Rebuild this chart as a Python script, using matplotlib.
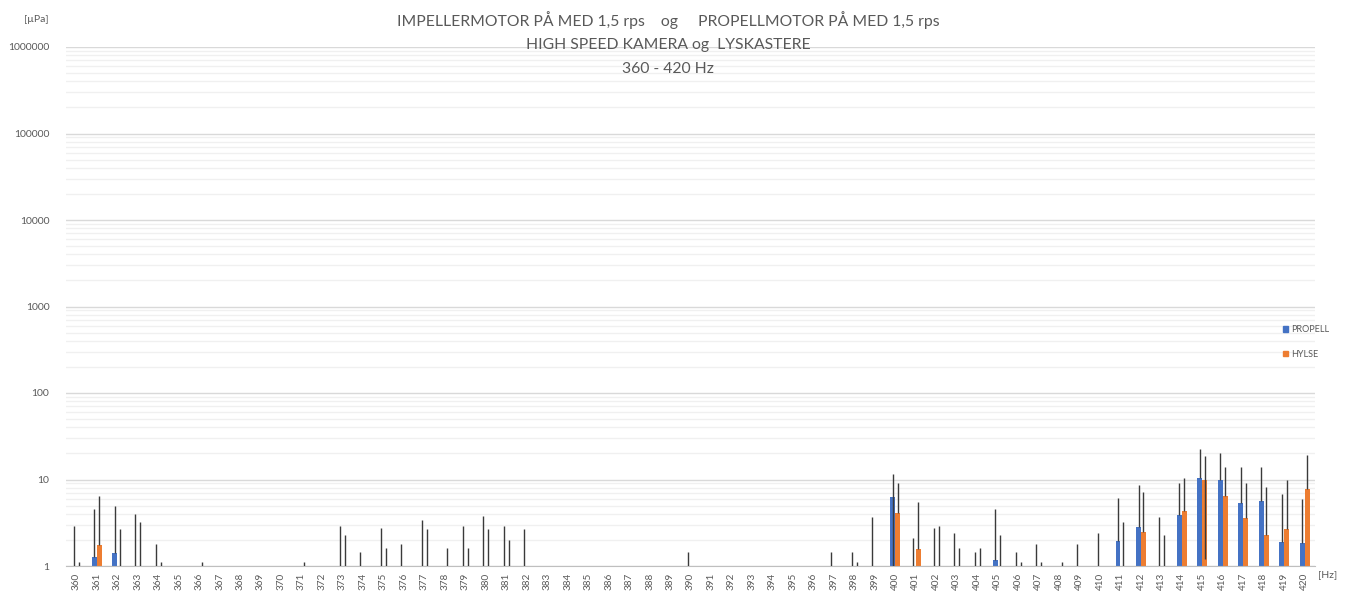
import matplotlib
matplotlib.use("Agg")
import matplotlib.pyplot as plt
import matplotlib.ticker as mticker
from matplotlib.patches import Patch
import numpy as np

plt.rcParams['font.family'] = ['Lato', 'DejaVu Sans']

# frequencies 360..420 Hz
freqs = list(range(360, 421))
y_ticks = [1, 10, 100, 1000, 10000, 100000, 1000000]

# PROPELL bar values and error sizes (0.2 = bar below the 1-axis, only error line shows)
prop_val = [0.2, 1.26, 1.41, 0.2, 0.2, 0, 0, 0, 0, 0,
            0, 0, 0, 0.2, 0.2, 0.2, 0.2, 0.2, 0, 0.2,
            0.2, 0.2, 0.2, 0, 0, 0, 0, 0, 0, 0,
            0.2, 0, 0, 0, 0, 0, 0, 0.2, 0.2, 0.2,
            6.2, 0.2, 0.2, 0.2, 0.2, 1.16, 0.2, 0.2, 0, 0.2,
            0.2, 1.96, 2.84, 0.2, 3.84, 10.45, 9.74, 5.33, 5.57, 1.89,
            1.83]
prop_err = [2.7, 3.34, 3.5, 3.75, 1.6, 0, 0, 0, 0, 0,
            0, 0, 0, 2.7, 1.24, 2.52, 1.61, 3.2, 0, 2.72,
            3.58, 2.72, 2.5, 0, 0, 0, 0, 0, 0, 0,
            1.24, 0, 0, 0, 0, 0, 0, 1.24, 1.24, 3.44,
            5.4, 1.88, 2.52, 2.22, 1.24, 3.44, 1.24, 1.6, 0, 1.6,
            2.22, 4.14, 5.76, 3.44, 5.36, 12.15, 10.36, 8.57, 8.33, 4.91,
            4.1]

# HYLSE
hyl_val = [0.2, 1.76, 0.2, 0.2, 0.2, 0, 0.2, 0, 0, 0,
           0, 0.2, 0, 0.2, 0, 0.2, 0, 0.2, 0.2, 0.2,
           0.2, 0.2, 0, 0, 0, 0, 0, 0, 0, 0,
           0, 0, 0, 0, 0, 0, 0, 0, 0.2, 0,
           4.12, 1.57, 0.2, 0.2, 0.2, 0.2, 0.2, 0.2, 0.2, 0,
           0, 0.2, 2.47, 0.2, 4.3, 10.0, 6.4, 3.58, 2.28, 2.65,
           7.7]
hyl_err = [0.9, 4.64, 2.5, 3.05, 0.9, 0, 0.9, 0, 0, 0,
           0, 0.9, 0, 2.1, 0, 1.4, 0, 2.5, 1.4, 1.4,
           2.5, 1.8, 0, 0, 0, 0, 0, 0, 0, 0,
           0, 0, 0, 0, 0, 0, 0, 0, 0.9, 0,
           5.08, 3.93, 2.7, 1.4, 1.4, 2.1, 0.9, 0.9, 0.9, 0,
           0, 3.05, 4.63, 2.1, 6.1, 8.8, 7.6, 5.42, 5.92, 7.25,
           11.7]

title_lines = ["IMPELLERMOTOR PÅ MED 1,5 rps    og     PROPELLMOTOR PÅ MED 1,5 rps",
               "HIGH SPEED KAMERA og  LYSKASTERE",
               "360 - 420 Hz"]

prop_val = np.array(prop_val, dtype=float)
prop_err = np.array(prop_err, dtype=float)
hyl_val = np.array(hyl_val, dtype=float)
hyl_err = np.array(hyl_err, dtype=float)

blue = '#4472C4'
orange = '#ED7D31'
grey = '#595959'

fig = plt.figure(figsize=(13.54, 5.99), dpi=100)
ax = fig.add_axes([66/1354, 1-566/599, (1315-66)/1354, (566-47)/599])

x = np.arange(len(freqs))
w = 0.24
ax.bar(x - w/2, prop_val, w, color=blue, zorder=2)
ax.bar(x + w/2, hyl_val, w, color=orange, zorder=2)

# error bars: minus part dropped when it would go below zero (log axis)
for off, v, e in [(-w/2, prop_val, prop_err), (w/2, hyl_val, hyl_err)]:
    m = e > 0
    lo = np.where(v - e > 0, e, 0)
    ax.errorbar(x[m] + off, v[m], yerr=[lo[m], e[m]], fmt='none',
                ecolor='#3a3a3a', elinewidth=1.0, capsize=0, zorder=3)

ax.set_yscale('log', nonpositive='clip')
ax.set_ylim(1, 1e6)
ax.set_xlim(-0.5, len(freqs) - 0.5)
ax.yaxis.set_major_locator(mticker.FixedLocator(y_ticks))
ax.yaxis.set_minor_locator(mticker.LogLocator(base=10, subs=np.arange(2, 10), numticks=100))
ax.set_yticklabels([str(t) for t in y_ticks])
ax.yaxis.set_minor_formatter(mticker.NullFormatter())
ax.grid(which='major', axis='y', color='#d9d9d9', lw=1, zorder=0)
ax.grid(which='minor', axis='y', color='#f0f0f0', lw=1, zorder=0)
ax.set_axisbelow(True)

ax.set_xticks(x)
ax.set_xticklabels([str(f) for f in freqs], rotation=90)
ax.tick_params(which='both', length=0, colors=grey, labelsize=7.5)
ax.tick_params(axis='y', pad=12)
ax.tick_params(axis='x', pad=5, labelsize=7.2)
for s in ['top', 'right', 'left']:
    ax.spines[s].set_visible(False)
ax.spines['bottom'].set_color('#bfbfbf')

ty = [20, 45, 69]
for t, yy in zip(title_lines, ty):
    fig.text(668/1354, 1 - yy/599, t, ha='center', va='center', fontsize=11.3,
             color=grey)

fig.text(36/1354, 1 - 20/599, '[µPa]', ha='center', va='center', fontsize=7.5, color=grey)
fig.text(1328/1354, 1 - 575/599, '[Hz]', ha='center', va='center', fontsize=7.5, color=grey)

handles = [Patch(color=blue, label='PROPELL'), Patch(color=orange, label='HYLSE')]
fig.legend(handles=handles, loc='upper left', bbox_to_anchor=(1283/1354, 1 - 325/599),
           frameon=False, fontsize=6.5, handlelength=0.6, handleheight=0.6,
           handletextpad=0.3, labelspacing=1.75, borderpad=0, borderaxespad=0,
           labelcolor=grey)

fig.savefig('out.png', dpi=100)
